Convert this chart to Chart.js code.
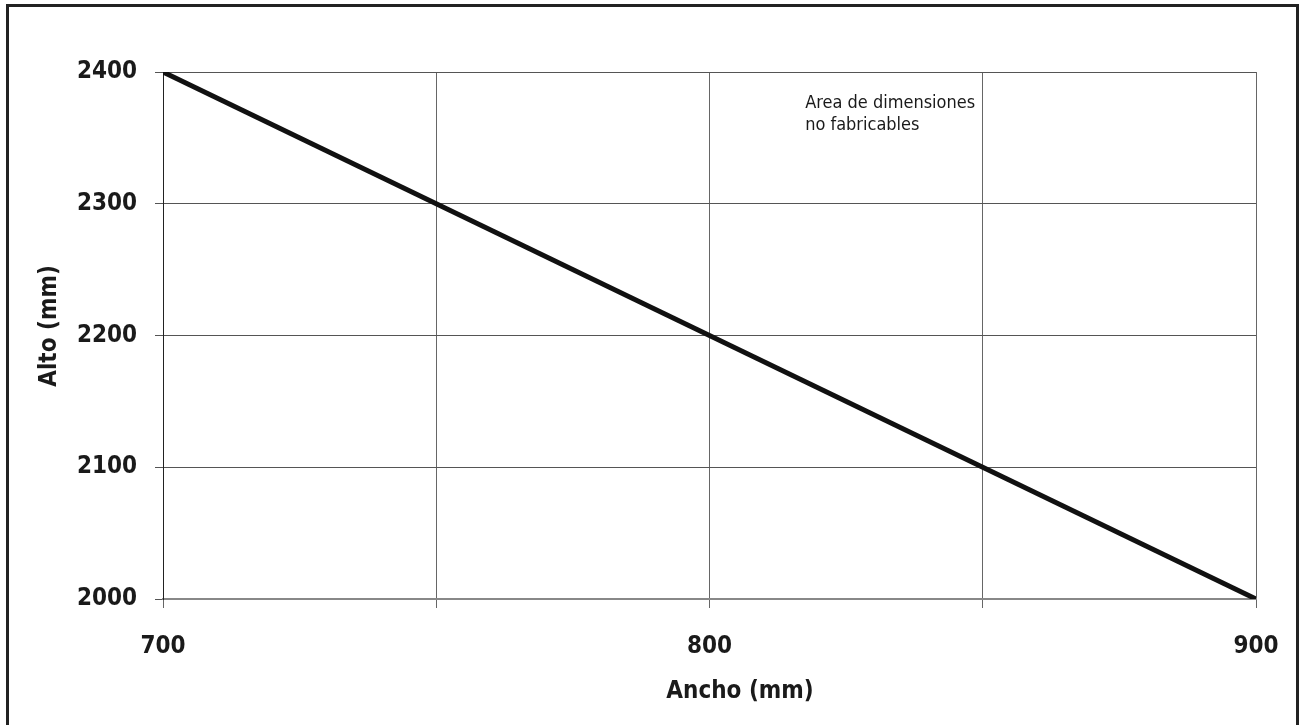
<!DOCTYPE html>
<html>
<head>
<meta charset="utf-8">
<script src="https://cdn.jsdelivr.net/npm/chart.js@4/dist/chart.umd.min.js"></script>
<style>
  html, body { margin: 0; padding: 0; background: #fff; }
  #wrap { width: 1304px; height: 725px; position: relative; }
</style>
</head>
<body>
<div id="wrap"><canvas id="chart" width="1304" height="725"></canvas></div>
<script>
// data
const anchoValues = [700, 900];
const altoValues = [2400, 2000];
const xTickLabels = [700, 800, 900];
const xAxisTitle = "Ancho (mm)";
const yAxisTitle = "Alto (mm)";
const noteLines = ["Area de dimensiones", "no fabricables"];

const fontFamily = "'DejaVu Sans Condensed', 'Liberation Sans Narrow', sans-serif";

// outer frame, axis titles and the note
const decorations = {
  id: 'decorations',
  afterDraw(chart) {
    const { ctx } = chart;
    ctx.save();
    ctx.strokeStyle = '#222';
    ctx.lineWidth = 3;
    ctx.strokeRect(7.5, 5.5, 1290, 760);

    ctx.fillStyle = '#1a1a1a';
    ctx.font = 'bold 24px ' + fontFamily;
    ctx.textAlign = 'center';
    ctx.textBaseline = 'middle';
    ctx.fillText(xAxisTitle, 740, 692);

    ctx.translate(50, 326);
    ctx.rotate(-Math.PI / 2);
    ctx.fillText(yAxisTitle, 0, 0);
    ctx.restore();

    ctx.save();
    ctx.fillStyle = '#1a1a1a';
    ctx.font = '18px ' + fontFamily;
    ctx.textAlign = 'left';
    ctx.textBaseline = 'alphabetic';
    const nx = chart.scales.x.getPixelForValue(817.5);
    ctx.fillText(noteLines[0], nx, 108);
    ctx.fillText(noteLines[1], nx, 130);
    ctx.restore();
  }
};

const config = {
  type: 'scatter',
  data: {
    datasets: [{
      data: anchoValues.map((x, i) => ({ x: x, y: altoValues[i] })),
      showLine: true,
      borderColor: '#111',
      borderWidth: 5,
      pointRadius: 0,
      fill: false
    }]
  },
  options: {
    responsive: false,
    animation: false,
    layout: { padding: { top: 72, right: 48, left: 0, bottom: 0 } },
    scales: {
      x: {
        type: 'linear',
        min: 700,
        max: 900,
        afterFit(scale) { scale.height = 126; },
        ticks: {
          stepSize: 50,
          maxRotation: 0,
          autoSkip: false,
          padding: 24,
          color: '#1a1a1a',
          font: { family: fontFamily, size: 24, weight: 'bold' },
          callback: v => xTickLabels.includes(v) ? String(v) : ''
        },
        grid: { color: '#666', lineWidth: 1, tickLength: 9, drawTicks: true },
        border: { display: true, color: '#888', width: 2 }
      },
      y: {
        type: 'linear',
        min: 2000,
        max: 2400,
        afterFit(scale) { scale.width = 163; },
        ticks: {
          stepSize: 100,
          padding: 18,
          color: '#1a1a1a',
          font: { family: fontFamily, size: 24, weight: 'bold' },
          callback: v => String(v)
        },
        grid: { color: '#555', lineWidth: 1, tickLength: 8 },
        border: { display: true, color: '#222', width: 1 }
      }
    },
    plugins: {
      legend: { display: false },
      tooltip: { enabled: false }
    }
  },
  plugins: [decorations]
};

new Chart(document.getElementById('chart'), config);
</script>
</body>
</html>
